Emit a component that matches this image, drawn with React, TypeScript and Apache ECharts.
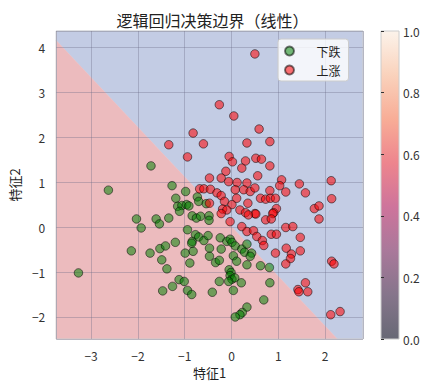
import React, { useEffect, useRef } from "react";
import * as echarts from "echarts";

// ---- data ----
const downPoints: number[][] = [
  [-1.72, 1.36], [-2.63, 0.82], [-1.27, 0.92], [-2.03, 0.18], [-1.93, -0.02], [-1.61, 0.18],
  [-1.54, 0.07], [-1.34, 0.2], [-2.14, -0.53], [-1.74, -0.58], [-1.53, -0.48], [-1.41, -0.42],
  [-1.49, -0.73], [-1.38, -0.93], [-3.27, -1.02], [-1.26, -1.32], [-1.47, -1.42],
  [-1.19, 0.64], [-0.98, 0.79], [-1.15, 0.46], [-1.06, 0.48], [-0.96, 0.5], [-0.91, 0.47],
  [-1.11, 0.35], [-0.73, 0.67], [-0.7, 0.57], [-0.54, 0.52], [-0.84, 0.25], [-0.75, 0.2],
  [-0.66, 0.24], [-0.48, 0.25], [-0.48, 0.15],
  [-0.94, -0.06], [-0.77, -0.17], [-0.7, -0.22], [-0.84, -0.32], [-0.85, -0.36], [-0.59, -0.3],
  [-0.5, -0.19], [-1.2, -0.34], [-0.82, -0.54], [-0.99, -0.58], [-0.89, -0.8], [-0.47, -0.47],
  [-0.47, -0.65], [-0.34, -0.79], [-0.26, -0.74], [-0.22, -0.49], [-0.24, -0.24], [-0.1, -0.32],
  [-0.03, -0.27], [0.01, -0.34], [0.08, -0.42], [0.04, -0.64], [0.11, -0.76], [0.22, -0.49],
  [0.28, -0.56], [-0.05, -0.95], [-0.01, -1.01], [-0.03, -1.08], [0.01, -1.16], [0.07, -1.13],
  [-0.26, -1.21], [-0.06, -1.21], [0.21, -1.24], [0.04, -1.41], [-1.12, -1.17], [-1.01, -1.21],
  [-0.94, -1.41], [-0.85, -1.5], [-0.41, -1.45], [0.33, -1.78], [0.23, -1.9], [0.18, -1.95],
  [0.08, -2.0],
  [0.33, -0.38], [0.43, -0.58], [0.4, -0.65], [0.33, -0.84], [0.62, -0.86], [0.81, -0.9],
  [0.82, -1.24], [0.69, -1.62],
];

const upPoints: number[][] = [
  [-1.34, 1.83],
  [-0.26, 2.72], [0.05, 2.47], [-0.82, 2.09], [-0.6, 1.85], [-0.94, 1.56], [0.33, 1.87],
  [-0.05, 1.57], [0.02, 1.45], [0.3, 1.47], [0.22, 1.31], [-0.12, 1.24], [-0.47, 1.09],
  [-0.22, 1.09], [-0.06, 1.01], [0.12, 0.99], [0.33, 0.98], [-0.68, 0.85], [-0.59, 0.85],
  [-0.45, 0.84], [-0.31, 0.76], [-0.22, 0.7], [0.08, 0.83], [0.26, 0.83], [-0.47, 0.53],
  [-0.15, 0.57], [0.01, 0.5], [0.11, 0.64], [-0.19, 0.4], [-0.1, 0.38], [-0.22, 0.3],
  [0.18, 0.38], [0.3, 0.32],
  [-0.03, 0.12], [0.22, 0.01],
  [0.5, 3.85], [0.4, 0.79], [0.35, 0.53], [0.5, 0.3], [0.59, 2.18], [0.82, 1.9], [0.52, 1.53],
  [0.64, 1.51], [0.82, 1.36], [0.56, 1.14], [1.07, 1.05], [1.03, 0.92], [1.45, 0.96],
  [1.16, 0.78], [1.58, 0.76], [2.13, 1.03], [2.14, 0.63], [0.5, 0.87], [0.82, 0.81],
  [0.62, 0.64], [0.73, 0.62], [0.83, 0.64], [0.94, 0.64], [0.96, 0.41], [0.9, 0.32],
  [0.88, 0.3], [0.52, 0.29], [0.36, 0.27], [1.77, 0.41], [1.87, 0.47], [1.87, 0.18],
  [0.73, 0.16], [0.85, 0.18],
  [1.16, -0.01], [1.31, 0.01], [0.33, -0.1], [0.47, -0.08], [0.54, -0.21], [0.66, -0.3],
  [0.69, -0.41], [0.85, -0.16], [0.96, -0.16], [1.47, -0.23], [0.94, -0.58], [1.17, -0.47],
  [1.28, -0.6], [1.26, -0.7], [1.16, -0.82], [1.47, -0.53], [2.14, -0.76], [2.19, -0.82],
  [1.58, -1.24], [1.42, -1.39], [1.44, -1.44], [1.63, -1.44], [2.12, -1.95], [2.32, -1.88],
];

const xLimits = [-3.745, 2.81];
const yLimits = [-2.49, 4.36];
// decision boundary endpoints (left edge, bottom edge)
const boundaryStart = [-3.745, 4.147];
const boundaryEnd = [2.261, -2.49];

const colorbarTicks = [0, 0.2, 0.4, 0.6, 0.8, 1.0];
const rocketStops: [number, string][] = [
  [0, "#03051a"], [0.143, "#35193e"], [0.286, "#701f57"], [0.429, "#ad1759"],
  [0.571, "#e13342"], [0.714, "#f37651"], [0.857, "#f6b48f"], [1, "#faebdd"],
];

const FONT = "'Noto Sans CJK SC', 'DejaVu Sans', sans-serif";

function hexToRgba(hex: string, a: number) {
  const r = parseInt(hex.slice(1, 3), 16);
  const g = parseInt(hex.slice(3, 5), 16);
  const b = parseInt(hex.slice(5, 7), 16);
  return `rgba(${r},${g},${b},${a})`;
}

const fmtTick = (v: number) => (v < 0 ? "\u2212" + Math.abs(v) : String(v));

export default function App() {
  const ref = useRef<HTMLDivElement>(null);
  useEffect(() => {
    if (!ref.current) return;
    const chart = echarts.init(ref.current, undefined, { renderer: "svg" });
    const option: any = {
      animation: false,
      backgroundColor: "#ffffff",
      title: {
        text: "逻辑回归决策边界（线性）",
        left: 207.5,
        textAlign: "center",
        top: 7,
        textStyle: { fontFamily: FONT, fontSize: 16, fontWeight: "normal", color: "#222" },
      },
      legend: {
        orient: "vertical",
        left: 278,
        top: 39,
        itemWidth: 24,
        itemHeight: 9,
        itemGap: 5,
        padding: [5, 8, 4, 6],
        backgroundColor: "rgba(255,255,255,0.8)",
        borderColor: "#cccccc",
        borderWidth: 1,
        borderRadius: 3,
        textStyle: { fontFamily: FONT, fontSize: 12, color: "#222", padding: [0, 0, 0, 10], lineHeight: 14 },
        data: [
          { name: "下跌", icon: "circle" },
          { name: "上涨", icon: "circle" },
        ],
      },
      grid: [
        { left: 52, top: 31, width: 311, height: 308, show: true, borderColor: "#cccccc", borderWidth: 1, backgroundColor: "transparent" },
        { left: 381, top: 31, width: 18, height: 308, show: true, borderColor: "#cccccc", borderWidth: 1, backgroundColor: "transparent" },
      ],
      xAxis: [
        {
          type: "value",
          gridIndex: 0,
          min: xLimits[0],
          max: xLimits[1],
          name: "特征1",
          nameLocation: "middle",
          nameGap: 26,
          nameTextStyle: { fontFamily: FONT, fontSize: 13, color: "#222" },
          axisLine: { show: false },
          axisTick: { show: false },
          axisLabel: {
            showMinLabel: false,
            showMaxLabel: false,
            margin: 10,
            fontFamily: FONT,
            fontSize: 12,
            color: "#333",
            formatter: fmtTick,
          },
          splitLine: { show: true, lineStyle: { color: "rgba(105,105,135,0.35)", width: 1 } },
        },
        { type: "value", gridIndex: 1, min: 0, max: 1, show: false },
      ],
      yAxis: [
        {
          type: "value",
          gridIndex: 0,
          min: yLimits[0],
          max: yLimits[1],
          name: "特征2",
          nameLocation: "middle",
          nameGap: 28,
          nameRotate: 90,
          nameTextStyle: { fontFamily: FONT, fontSize: 13, color: "#222" },
          axisLine: { show: false },
          axisTick: { show: false },
          axisLabel: {
            showMinLabel: false,
            showMaxLabel: false,
            margin: 11,
            fontFamily: FONT,
            fontSize: 12,
            color: "#333",
            formatter: fmtTick,
          },
          splitLine: { show: true, lineStyle: { color: "rgba(105,105,135,0.35)", width: 1 } },
        },
        {
          type: "value",
          gridIndex: 1,
          min: 0,
          max: 1,
          interval: 0.2,
          position: "right",
          axisLine: { show: false },
          axisTick: { show: true, length: 3, lineStyle: { color: "#333" } },
          axisLabel: {
            margin: 4,
            fontFamily: FONT,
            fontSize: 12,
            color: "#333",
            formatter: (v: number) => (colorbarTicks.includes(Number(v.toFixed(1))) ? v.toFixed(1) : ""),
          },
          splitLine: { show: false },
        },
      ],
      series: [
        {
          type: "custom",
          xAxisIndex: 0,
          yAxisIndex: 0,
          z: -1,
          silent: true,
          data: [[0, 0]],
          renderItem: (_params: any, api: any) => {
            const c = (p: number[]) => api.coord(p);
            const pink = [
              [xLimits[0], yLimits[0]],
              boundaryStart,
              boundaryEnd,
            ].map(c);
            const blue = [
              boundaryStart,
              [xLimits[0], yLimits[1]],
              [xLimits[1], yLimits[1]],
              [xLimits[1], yLimits[0]],
              boundaryEnd,
            ].map(c);
            return {
              type: "group",
              children: [
                { type: "polygon", shape: { points: blue }, style: { fill: "#c3cce4", stroke: "#c3cce4", lineWidth: 0.5 } },
                { type: "polygon", shape: { points: pink }, style: { fill: "#ecbbbe", stroke: "#ecbbbe", lineWidth: 0.5 } },
              ],
            };
          },
        },
        {
          type: "custom",
          xAxisIndex: 1,
          yAxisIndex: 1,
          z: -1,
          silent: true,
          data: [[0, 0]],
          renderItem: (_params: any, api: any) => {
            const p0 = api.coord([0, 0]);
            const p1 = api.coord([1, 1]);
            return {
              type: "rect",
              shape: { x: p0[0], y: p1[1], width: p1[0] - p0[0], height: p0[1] - p1[1] },
              style: {
                fill: new echarts.graphic.LinearGradient(
                  0, 1, 0, 0,
                  rocketStops.map(([o, col]) => ({ offset: o, color: hexToRgba(col, 0.6) }))
                ),
              },
            };
          },
        },
        {
          name: "下跌",
          type: "scatter",
          xAxisIndex: 0,
          yAxisIndex: 0,
          symbol: "circle",
          symbolSize: 8.5,
          data: downPoints,
          itemStyle: { color: "rgba(0,128,0,0.66)", borderColor: "rgba(0,0,0,0.65)", borderWidth: 1 },
        },
        {
          name: "上涨",
          type: "scatter",
          xAxisIndex: 0,
          yAxisIndex: 0,
          symbol: "circle",
          symbolSize: 8.5,
          data: upPoints,
          itemStyle: { color: "rgba(255,0,0,0.68)", borderColor: "rgba(0,0,0,0.65)", borderWidth: 1 },
        },
      ],
    };
    chart.setOption(option);
    return () => chart.dispose();
  }, []);
  return <div ref={ref} style={{ width: 437, height: 389, position: "absolute", left: 0, top: 0 }} />;
}
